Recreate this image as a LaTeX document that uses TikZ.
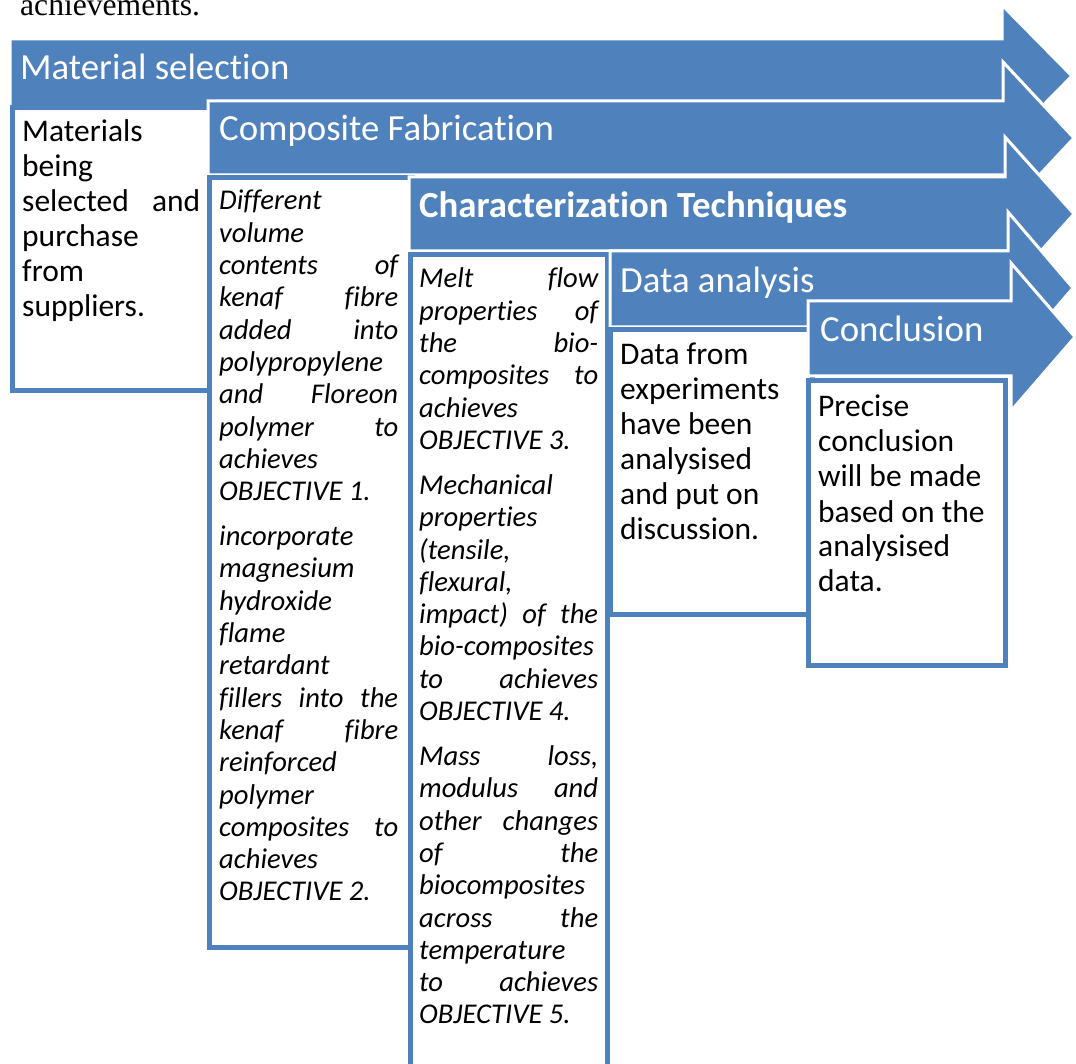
\documentclass[tikz,border=0pt]{standalone}
\usepackage{fontspec}
\setmainfont{Carlito}[Ligatures=NoCommon, Contextuals=NoAlternate]
\newfontfamily\timesfont{Liberation Serif}
\definecolor{accent}{RGB}{79,129,189}

% justified line: stretch the spaces to the full column width
\newcommand\jline[1]{\makebox[\linewidth][s]{#1}}
% upright and italic text columns (first baseline is the node's base)
\newcommand\uptext[2]{\parbox[t]{#1}{\fontsize{31.5}{35}\selectfont #2}}
\newcommand\ittext[2]{\parbox[t]{#1}{\itshape\fontsize{28.6}{32.3}\selectfont #2}}

\tikzset{
  stage/.style={fill=accent, draw=white, line width=3pt, line join=miter},
  panel/.style={fill=white, draw=accent, line width=5pt},
  headtxt/.style={anchor=base west, inner sep=0pt, text=white,
                  font=\fontsize{36.8}{40}\selectfont},
  bodytxt/.style={anchor=base west, inner sep=0pt, text=black},
}

\begin{document}
\begin{tikzpicture}[x=1pt, y=-1pt]
\path[use as bounding box] (0,0) rectangle (1076,1064);
\clip (0,0) rectangle (1076,1064);

\node[anchor=base west, inner sep=0pt,
      font=\timesfont\fontsize{31.6}{36}\selectfont] (lead) at (20,16) {achievements.};

% ---- stage 1 ----
\path[stage] (10,39) -- (1002,39) -- (1002,5) -- (1072,76) -- (1002,147)
  -- (1002,113) -- (10,113) -- cycle;
\path[panel] (12.5,108) rectangle (212,390.5);
\node[headtxt] (h1) at (20,80) {Material selection};
\node[bodytxt] (t1) at (22,142) {\uptext{178pt}{%
  Materials\\ being\\ \jline{selected and}\\ purchase\\ from\\ suppliers.}};

% ---- stage 2 ----
\path[stage] (208,101) -- (1003,101) -- (1003,62) -- (1074,138) -- (1003,214)
  -- (1003,175) -- (208,175) -- cycle;
\path[panel] (209.5,177.5) rectangle (412,947.5);
\node[headtxt] (h2) at (219,141) {Composite Fabrication};
\node[bodytxt] (t2) at (219,210) {\ittext{179pt}{%
  Different\\ volume\\ \jline{contents of}\\ \jline{kenaf fibre}\\
  \jline{added into}\\ polypropylene\\ \jline{and Floreon}\\
  \jline{polymer to}\\ achieves\\ OBJECTIVE 1.\\[12.7pt]
  incorporate\\ magnesium\\ hydroxide\\ flame\\ retardant\\
  \jline{fillers into the}\\ \jline{kenaf fibre}\\ reinforced\\ polymer\\
  \jline{composites to}\\ achieves\\ OBJECTIVE 2.}};

% ---- stage 3 ----
\path[stage] (409,177) -- (1005,177) -- (1005,137) -- (1074,214) -- (1005,291)
  -- (1005,251) -- (409,251) -- cycle;
\path[panel] (410,254.5) rectangle (607,1090);
\node[headtxt, font=\bfseries\fontsize{36.8}{40}\selectfont] (h3) at (419,218)
  {Characterization Techniques};
\node[bodytxt] (t3) at (419,288) {\ittext{179pt}{%
  \jline{Melt flow}\\ \jline{properties of}\\ \jline{the bio-}\\
  \jline{composites to}\\ achieves\\ OBJECTIVE 3.\\[12.7pt]
  Mechanical\\ properties\\ (tensile,\\ flexural,\\ \jline{impact) of the}\\
  bio-composites\\ \jline{to achieves}\\ OBJECTIVE 4.\\[12.7pt]
  \jline{Mass loss,}\\ \jline{modulus and}\\ \jline{other changes}\\
  \jline{of the}\\ biocomposites\\ \jline{across the}\\ temperature\\
  \jline{to achieves}\\ OBJECTIVE 5.}};

% ---- stage 4 ----
\path[stage] (610,251) -- (1008,251) -- (1008,212) -- (1073,288) -- (1008,364)
  -- (1008,327) -- (610,327) -- cycle;
\path[panel] (610.5,330) rectangle (812,614.5);
\node[headtxt] (h4) at (620,293) {Data analysis};
\node[bodytxt] (t4) at (620,365) {\uptext{180pt}{%
  Data from\\ experiments\\ have been\\ analysised\\ and put on\\ discussion.}};

% ---- stage 5 ----
\path[stage] (808,301) -- (1011,301) -- (1011,263) -- (1075,337) -- (1011,411)
  -- (1011,376) -- (808,376) -- cycle;
\path[panel] (808,380.5) rectangle (1005.5,665.5);
\node[headtxt] (h5) at (820,342) {Conclusion};
\node[bodytxt] (t5) at (818,417) {\uptext{180pt}{%
  Precise\\ conclusion\\ will be made\\ based on the\\ analysised\\ data.}};
\end{tikzpicture}
\end{document}
